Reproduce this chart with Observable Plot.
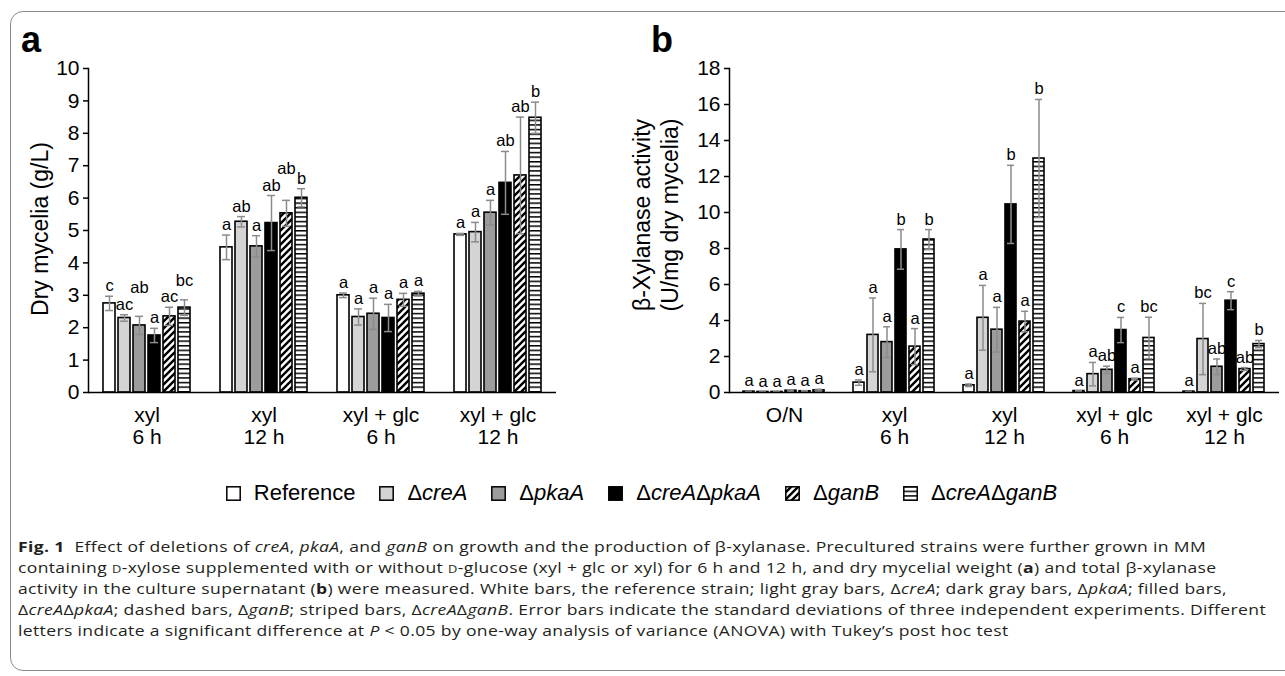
<!DOCTYPE html>
<html><head><meta charset="utf-8">
<script src="https://cdn.jsdelivr.net/npm/d3@7"></script>
<script src="https://cdn.jsdelivr.net/npm/@observablehq/plot@0.6"></script>
<style>
html,body{margin:0;padding:0;background:#fff;}
body{width:1285px;height:676px;overflow:hidden;position:relative;font-family:"Liberation Sans",Arial,sans-serif;color:#000;}
#box{position:absolute;left:10px;top:11px;width:1320px;height:660px;border:1.5px solid #8a8a8a;border-radius:13px;box-sizing:border-box;}
.panel{position:absolute;top:0;}
.plabel{position:absolute;font-weight:bold;font-size:36px;line-height:36px;}
.ytitle{position:absolute;font-size:23px;line-height:28px;text-align:center;white-space:nowrap;transform:translate(-50%,-50%) rotate(-90deg);}
#legend{position:absolute;left:0;width:1285px;top:481px;height:24px;display:flex;justify-content:center;align-items:center;font-size:22px;padding-right:2px;box-sizing:border-box;}
.item{display:flex;align-items:center;margin:0 12px;}
.item svg{margin-right:13px;}
#caption{position:absolute;left:18px;top:536px;font-family:"Open Sans",sans-serif;font-size:15px;letter-spacing:0.3px;color:#231f20;white-space:nowrap;transform-origin:0 0;}
#caption div{height:21px;line-height:21px;}
.sc{font-variant:small-caps;}
</style>
</head>
<body>
<svg width="0" height="0" style="position:absolute">
<defs>
<pattern id="diag" patternUnits="userSpaceOnUse" width="7" height="7">
<rect width="7" height="7" fill="#fff"/>
<path d="M-1.75,1.75 L1.75,-1.75 M0,7 L7,0 M5.25,8.75 L8.75,5.25" stroke="#000" stroke-width="2.4"/>
</pattern>
<pattern id="hstripe" patternUnits="userSpaceOnUse" width="8" height="4.6">
<rect width="8" height="4.6" fill="#fff"/>
<rect y="0" width="8" height="1.5" fill="#000"/>
</pattern>
</defs>
</svg>
<div id="box"></div>
<div class="plabel" style="left:21px;top:22px">a</div>
<div class="plabel" style="left:651px;top:22px">b</div>
<div id="pa" class="panel" style="left:0px"></div>
<div id="pb" class="panel" style="left:570px"></div>
<div class="ytitle" style="left:40px;top:229px">Dry mycelia (g/L)</div>
<div class="ytitle" style="left:656px;top:215px">β-Xylanase activity<br>(U/mg dry mycelia)</div>
<div id="legend"></div>
<div id="caption">
<div><b>Fig. 1</b>&nbsp; Effect of deletions of <i>creA</i>, <i>pkaA</i>, and <i>ganB</i> on growth and the production of β-xylanase. Precultured strains were further grown in MM</div>
<div>containing <span class="sc">d</span>-xylose supplemented with or without <span class="sc">d</span>-glucose (xyl + glc or xyl) for 6 h and 12 h, and dry mycelial weight (<b>a</b>) and total β-xylanase</div>
<div>activity in the culture supernatant (<b>b</b>) were measured. White bars, the reference strain; light gray bars, Δ<i>creA</i>; dark gray bars, Δ<i>pkaA</i>; filled bars,</div>
<div><span id="longest">Δ<i>creA</i>Δ<i>pkaA</i>; dashed bars, Δ<i>ganB</i>; striped bars, Δ<i>creA</i>Δ<i>ganB</i>. Error bars indicate the standard deviations of three independent experiments. Different</span></div>
<div>letters indicate a significant difference at <i>P</i> &lt; 0.05 by one-way analysis of variance (ANOVA) with Tukey’s post hoc test</div>
</div>
<script>
// ---------- data ----------
const strains = ["Reference", "ΔcreA", "ΔpkaA", "ΔcreAΔpkaA", "ΔganB", "ΔcreAΔganB"];

const groupsA = ["xyl\n6 h", "xyl\n12 h", "xyl + glc\n6 h", "xyl + glc\n12 h"];
const meanA = [
  [2.75, 2.30, 2.07, 1.76, 2.35, 2.62],
  [4.48, 5.27, 4.51, 5.23, 5.53, 6.01],
  [3.00, 2.33, 2.43, 2.30, 2.86, 3.05],
  [4.88, 4.95, 5.55, 6.47, 6.70, 8.48]
];
const sdA = [
  [0.22, 0.10, 0.28, 0.22, 0.28, 0.24],
  [0.38, 0.16, 0.33, 0.85, 0.40, 0.28],
  [0.07, 0.25, 0.48, 0.42, 0.20, 0.07],
  [0.03, 0.30, 0.38, 0.97, 1.80, 0.48]
];
const letA = [
  ["c", "ac", "ab", "a", "ac", "bc"],
  ["a", "ab", "a", "ab", "ab", "b"],
  ["a", "a", "a", "a", "a", "a"],
  ["a", "a", "a", "ab", "ab", "b"]
];
const ticksA = [0, 1, 2, 3, 4, 5, 6, 7, 8, 9, 10];

const groupsB = ["O/N", "xyl\n6 h", "xyl\n12 h", "xyl + glc\n6 h", "xyl + glc\n12 h"];
const meanB = [
  [0.05, 0.03, 0.03, 0.10, 0.07, 0.12],
  [0.55, 3.20, 2.80, 7.95, 2.55, 8.50],
  [0.40, 4.15, 3.49, 10.45, 3.94, 13.00],
  [0.08, 1.02, 1.26, 3.47, 0.74, 3.03],
  [0.05, 2.97, 1.43, 5.10, 1.30, 2.69]
];
const sdB = [
  [0.02, 0.01, 0.01, 0.04, 0.03, 0.06],
  [0.15, 2.05, 0.85, 1.10, 1.00, 0.55],
  [0.07, 1.80, 1.24, 2.17, 0.57, 3.28],
  [0.01, 0.65, 0.20, 0.70, 0.05, 1.15],
  [0.01, 1.98, 0.43, 0.50, 0.08, 0.20]
];
const letB = [
  ["a", "a", "a", "a", "a", "a"],
  ["a", "a", "a", "b", "a", "b"],
  ["a", "a", "a", "b", "a", "b"],
  ["a", "a", "ab", "c", "a", "bc"],
  ["a", "bc", "ab", "c", "ab", "b"]
];
const ticksB = [0, 2, 4, 6, 8, 10, 12, 14, 16, 18];

// ---------- styles ----------
const fills = ["#ffffff", "#d4d4d4", "#9c9c9c", "#000000", "url(#diag)", "url(#hstripe)"];
const FONT = '"Liberation Sans", Arial, sans-serif';
const LFS = 16.5; // letter font size

function panel(groups, means, sds, lets, ticks, ymax, o) {
  const H = 460, MT = 68, MB = 68;
  const ppu = (H - MT - MB) / ymax;
  const step = (o.width - o.ml - o.mr) / groups.length / (strains.length - 0.2 + 1.6);
  const data = [];
  groups.forEach((g, i) => {
    let prev = null;
    strains.forEach((s, j) => {
      const d = {group: g, strain: s, mean: means[i][j], sd: sds[i][j], letter: lets[i][j]};
      d.w = d.letter.length * 0.56 * LFS;
      let ly = d.mean + d.sd;
      if (prev && (prev.w + d.w) / 2 > step - 1 && Math.abs(ly - prev.ly) * ppu < LFS) ly = prev.ly + LFS / ppu;
      d.ly = ly;
      data.push(d);
      prev = d;
    });
  });
  return Plot.plot({
    width: o.width, height: H,
    marginLeft: o.ml, marginRight: o.mr, marginTop: MT, marginBottom: MB,
    style: {fontFamily: FONT, fontSize: "21px", color: "#000", background: "transparent", overflow: "visible"},
    fx: {domain: groups, padding: 0, label: null},
    x: {domain: strains, paddingInner: 0.2, paddingOuter: 0.8, axis: null},
    y: {domain: [0, ymax], label: null},
    color: {type: "ordinal", domain: strains, range: fills},
    marks: [
      Plot.axisY({ticks, tickSize: 5, tickPadding: 4, strokeWidth: 1.5, label: null, fontSize: 21}),
      Plot.axisFx({anchor: "bottom", tickSize: 0, tickPadding: 14, label: null, fontSize: 21, lineHeight: 1.05}),
      Plot.barY(data, {fx: "group", x: "strain", y: "mean", fill: "strain", stroke: "#000", strokeWidth: 1.6}),
      Plot.ruleX(data, {fx: "group", x: "strain", y1: d => Math.max(0, d.mean - d.sd), y2: d => d.mean + d.sd,
        stroke: "#8c8c8c", strokeWidth: 1.5}),
      Plot.tickY(data, {fx: "group", x: "strain", y: d => d.mean + d.sd, stroke: "#8c8c8c", strokeWidth: 1.5, insetLeft: 2, insetRight: 2}),
      Plot.tickY(data, {fx: "group", x: "strain", y: d => Math.max(0, d.mean - d.sd), stroke: "#8c8c8c", strokeWidth: 1.5, insetLeft: 2, insetRight: 2}),
      Plot.text(data, {fx: "group", x: "strain", y: "ly", text: "letter",
        lineAnchor: "bottom", dy: -5, fontSize: LFS, fill: "#000"}),
      Plot.ruleY([0], {stroke: "#000", strokeWidth: 1.5}),
      Plot.frame({anchor: "left", facetAnchor: "left", stroke: "#000", strokeWidth: 1.5})
    ]
  });
}

document.getElementById("pa").appendChild(
  panel(groupsA, meanA, sdA, letA, ticksA, 10, {width: 570, ml: 86, mr: 13}));
document.getElementById("pb").appendChild(
  panel(groupsB, meanB, sdB, letB, ticksB, 18, {width: 715, ml: 158, mr: 5}));

// ---------- legend ----------
const leg = document.getElementById("legend");
strains.forEach((s, i) => {
  const it = document.createElement("div");
  it.className = "item";
  it.innerHTML = `<svg width="15" height="15"><rect x="0.8" y="0.8" width="13.4" height="13.4" fill="${fills[i]}" stroke="#000" stroke-width="1.5"/></svg><span>${s.replace(/Δ([A-Za-z]+)/g, "Δ<i>$1</i>")}</span>`;
  leg.appendChild(it);
});

// ---------- caption width fit ----------
const lw = document.getElementById("longest").getBoundingClientRect().width;
document.getElementById("caption").style.transform = `scaleX(${(1266 - 18) / lw})`;
</script>
</body></html>
